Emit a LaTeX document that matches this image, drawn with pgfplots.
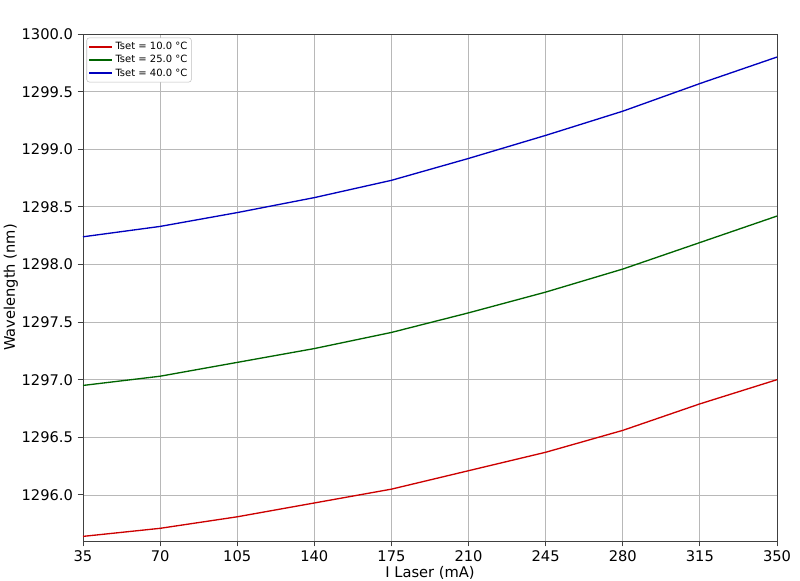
\documentclass[border=0pt]{standalone}
\usepackage{pgfplots}
\pgfplotsset{compat=1.18}
\usepackage{fontspec}
\setmainfont{DejaVu Sans}
\definecolor{cred}{RGB}{204,0,0}
\definecolor{cgreen}{RGB}{0,100,0}
\definecolor{cblue}{RGB}{0,0,190}
\begin{document}
\begin{tikzpicture}
  \useasboundingbox (-62.25pt,-30pt) rectangle (537.75pt,405.75pt);
  \begin{axis}[
    at={(0,0)}, anchor=south west,
    scale only axis,
    width=520.5pt, height=380.25pt,
    xmin=35, xmax=350, ymin=1295.6, ymax=1300,
    xtick={35,70,...,350},
    ytick={1296,1296.5,...,1300},
    yticklabel style={/pgf/number format/.cd,fixed,fixed zerofill,precision=1,1000 sep={}},
    /pgf/number format/assume math mode=true,
    tick label style={font=\fontsize{11}{13}\selectfont},
    label style={font=\fontsize{11}{13}\selectfont},
    xlabel={I Laser (mA)}, ylabel={Wavelength (nm)},
    xlabel style={yshift=4pt},
    ylabel style={yshift=-4pt},
    grid=major,
    major grid style={draw=black!28, line width=0.6pt},
    axis line style={draw=black!75, line width=0.7pt},
    tick style={draw=black!75, line width=0.7pt},
    tick align=outside, tick pos=left,
    major tick length=4pt,
    legend pos=north west,
    legend cell align=left,
    legend style={font=\fontsize{7.5}{9}\selectfont, draw=black!25, rounded corners=2pt,
      at={(0.005,0.993)}, anchor=north west, inner sep=1pt, row sep=-1pt},
    legend image post style={line width=1.5pt},
    every axis plot/.append style={line width=1pt},
  ]
    \addplot[cred] coordinates {(35,1295.64) (70,1295.71) (105,1295.81) (140,1295.93) (175,1296.05) (210,1296.21) (245,1296.37) (280,1296.56) (315,1296.79) (350,1297.00)};
    \addlegendentry{Tset = 10.0 °C}
    \addplot[cgreen] coordinates {(35,1296.95) (70,1297.03) (105,1297.15) (140,1297.27) (175,1297.41) (210,1297.58) (245,1297.76) (280,1297.96) (315,1298.19) (350,1298.42)};
    \addlegendentry{Tset = 25.0 °C}
    \addplot[cblue] coordinates {(35,1298.24) (70,1298.33) (105,1298.45) (140,1298.58) (175,1298.73) (210,1298.92) (245,1299.12) (280,1299.33) (315,1299.57) (350,1299.80)};
    \addlegendentry{Tset = 40.0 °C}
  \end{axis}
\end{tikzpicture}
\end{document}
